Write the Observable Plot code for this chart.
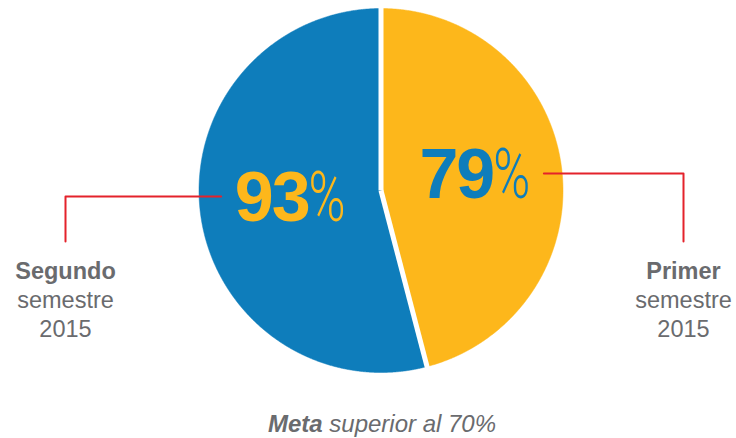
<!DOCTYPE html>
<html><head><meta charset="utf-8">
<script src="https://cdn.jsdelivr.net/npm/d3@7"></script>
<script src="https://cdn.jsdelivr.net/npm/@observablehq/plot@0.6"></script>
<style>body{margin:0;background:#fff} svg{display:block}</style>
</head><body><div id="chart"></div>
<script>
// ---- data ----
const categories = ["Primer semestre 2015", "Segundo semestre 2015"];
const labelTitles = ["Primer", "Segundo"];
const labelSubtitles = ["semestre\n2015", "semestre\n2015"];
const values = [79, 93];
const sliceColors = ["#fdb71b", "#0e7dbb"];
const valueColors = ["#0e7dbb", "#fdb71b"];
const captionBold = "Meta";
const captionRest = " superior al 70%";

// ---- layout (pixels -> unit radius coordinates) ----
const W = 736, H = 438, CX = 380.5, CY = 190, R = 182;
const px = v => (v - CX) / R, py = v => (CY - v) / R;

const arcs = d3.pie().sort(null).startAngle(0).endAngle(2 * Math.PI)(values);
const pt = (a, r) => [r * Math.sin(a), r * Math.cos(a)];

const slices = arcs.map((a, i) => {
  const pts = [{x: 0, y: 0}];
  const n = Math.ceil((a.endAngle - a.startAngle) / (Math.PI / 720));
  for (let k = 0; k <= n; k++) {
    const ang = a.startAngle + (a.endAngle - a.startAngle) * k / n;
    const [x, y] = pt(ang, 1);
    pts.push({x, y});
  }
  pts.push({x: 0, y: 0});
  return pts;
});

const seps = arcs.map(a => {
  const [x2, y2] = pt(a.startAngle, 1.02);
  return {x1: 0, y1: 0, x2, y2};
});

const labels = arcs.map((a, i) => {
  const mid = (a.startAngle + a.endAngle) / 2;
  const [x, y] = pt(mid, 0.52);
  return {x, y, side: Math.sign(x), text: values[i] + "%", color: valueColors[i], i};
});
labels[0].y += 3 / R;
labels[1].y += 4 / R;
labels[1].x += 3 / R;

const sideX = {"1": px(683), "-1": px(65)};
const leaders = labels.map(l => {
  const sx = l.x + l.side * 69 / R;
  const cx = sideX[String(l.side)];
  const ly = l.y + 2 / R;
  return [{x: sx, y: ly}, {x: cx, y: ly}, {x: cx, y: py(241)}];
});

const sideLabels = labels.map((l, i) => ({
  x: sideX[String(l.side)], y: py(258), text: labelTitles[i] + "\n" + labelSubtitles[i]
}));

const marks = [];
slices.forEach((s, i) => marks.push(Plot.line(s, {x: "x", y: "y", fill: sliceColors[i], stroke: sliceColors[i], strokeWidth: 0.5})));
marks.push(Plot.link(seps, {x1: "x1", y1: "y1", x2: "x2", y2: "y2", stroke: "white", strokeWidth: 5}));
leaders.forEach(l => marks.push(Plot.line(l, {x: "x", y: "y", stroke: "#e4222b", strokeWidth: 2})));
marks.push(Plot.text(labels, {x: "x", y: "y", text: "text", fill: "color", fontSize: 70, lineAnchor: "middle"}));
marks.push(Plot.text(sideLabels, {x: "x", y: "y", text: "text", fill: "#6a6b6e", fontSize: 23.5, lineAnchor: "top", lineHeight: 1.24}));
marks.push(Plot.text([captionBold + captionRest], {x: px(381.5), y: py(424), text: d => d, fill: "#6a6b6e", fontSize: 24, fontStyle: "italic"}));

const chart = Plot.plot({
  width: W, height: H,
  margin: 0,
  x: {domain: [px(0), px(W)], range: [0, W], axis: null},
  y: {domain: [py(H), py(0)], range: [H, 0], axis: null},
  style: {fontFamily: "'Liberation Sans', Arial, Helvetica, sans-serif", background: "white"},
  marks
});

const svg = d3.select(chart);
svg.selectAll("text").each(function () {
  const t = d3.select(this);
  const s = t.text();
  if (/^\d+%$/.test(s)) {
    const num = s.replace("%", "");
    t.text(null);
    t.append("tspan").style("font-weight", "700").attr("letter-spacing", -2).text(num);
    t.append("tspan").style("font-weight", "300").style("font-family", "Roboto, 'Liberation Sans', sans-serif")
      .attr("textLength", 37).attr("lengthAdjust", "spacingAndGlyphs").text("%");
  } else if (s.startsWith(captionBold + " ")) {
    t.text(null);
    t.append("tspan").style("font-weight", "700").text(captionBold);
    t.append("tspan").text(captionRest);
  } else if (labelTitles.some(lt => s.startsWith(lt))) {
    t.select("tspan").style("font-weight", "700");
  }
});

document.getElementById("chart").appendChild(chart);
</script>
</body></html>
